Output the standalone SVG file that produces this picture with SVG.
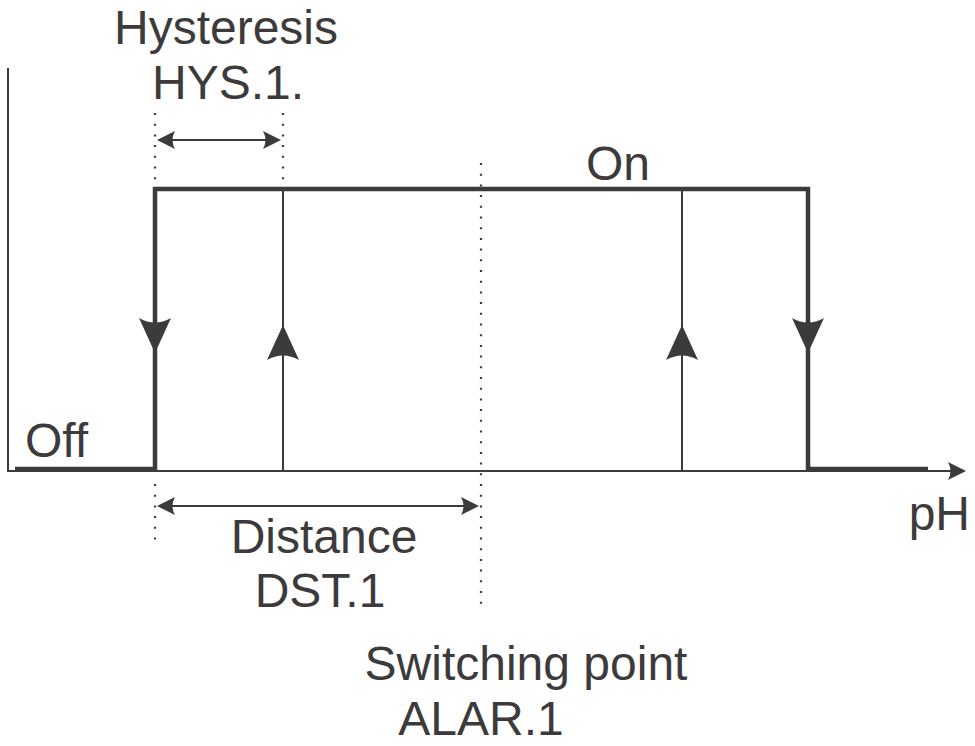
<svg xmlns="http://www.w3.org/2000/svg" xmlns:xlink="http://www.w3.org/1999/xlink" width="975" height="746" viewBox="0 0 975 746">
<style>
.t{font-family:"Liberation Sans",Arial,Helvetica,sans-serif;font-size:48px;fill:#3d3a3c}
.thick{stroke:#3d3a3c;stroke-width:4.5;fill:none}
.thin{stroke:#3d3a3c;stroke-width:2;fill:none}
.dot{stroke:#3d3a3c;stroke-width:2.2;fill:none;stroke-dasharray:2 8.7}
.ah{fill:#3d3a3c}
</style>
<defs>
<path id="big" d="M0,0 L16,35 Q0,26 -16,35 Z"/>
<path id="small" d="M0,0 L9,18 Q0,13 -9,18 Z"/>
</defs>
<rect width="975" height="746" fill="#fff"/>
<g id="axes">
<line class="thin" x1="8" y1="68" x2="8" y2="471"/>
<line class="thin" x1="7" y1="471" x2="952" y2="471"/>
<use href="#small" class="ah" transform="translate(966,471) rotate(90)"/>
</g>
<g id="connectors">
<polyline class="thick" points="15,469 155,469 155,189 808,189 808,469 928,469"/>
<line class="thin" x1="283" y1="189" x2="283" y2="471"/>
<line class="thin" x1="682" y1="189" x2="682" y2="471"/>
<use href="#big" class="ah" transform="translate(155,353) rotate(180)"/>
<use href="#big" class="ah" transform="translate(283,325)"/>
<use href="#big" class="ah" transform="translate(682,325)"/>
<use href="#big" class="ah" transform="translate(808,353) rotate(180)"/>
<line class="dot" x1="155" y1="113" x2="155" y2="189"/>
<line class="dot" x1="283" y1="113" x2="283" y2="189"/>
<line class="dot" x1="155" y1="484" x2="155" y2="542"/>
<line class="dot" x1="481" y1="163" x2="481" y2="612"/>
<line class="thin" x1="170" y1="140" x2="268" y2="140"/>
<use href="#small" class="ah" transform="translate(157,140) rotate(-90)"/>
<use href="#small" class="ah" transform="translate(281,140) rotate(90)"/>
<line class="thin" x1="170" y1="506" x2="466" y2="506"/>
<use href="#small" class="ah" transform="translate(157,506) rotate(-90)"/>
<use href="#small" class="ah" transform="translate(479,506) rotate(90)"/>
</g>
<g id="hysteresis"><text class="t" x="226" y="44" text-anchor="middle">Hysteresis</text><text class="t" x="228" y="99" text-anchor="middle">HYS.1.</text></g>
<g id="on"><text class="t" x="618" y="180" text-anchor="middle">On</text></g>
<g id="off"><text class="t" x="25" y="457">Off</text></g>
<g id="ph"><text class="t" x="970" y="530" text-anchor="end">pH</text></g>
<g id="distance"><text class="t" x="324" y="553" text-anchor="middle">Distance</text><text class="t" x="320" y="607" text-anchor="middle">DST.1</text></g>
<g id="switching"><text class="t" x="526" y="680" text-anchor="middle">Switching point</text><text class="t" x="481" y="735" text-anchor="middle">ALAR.1</text></g>
</svg>
